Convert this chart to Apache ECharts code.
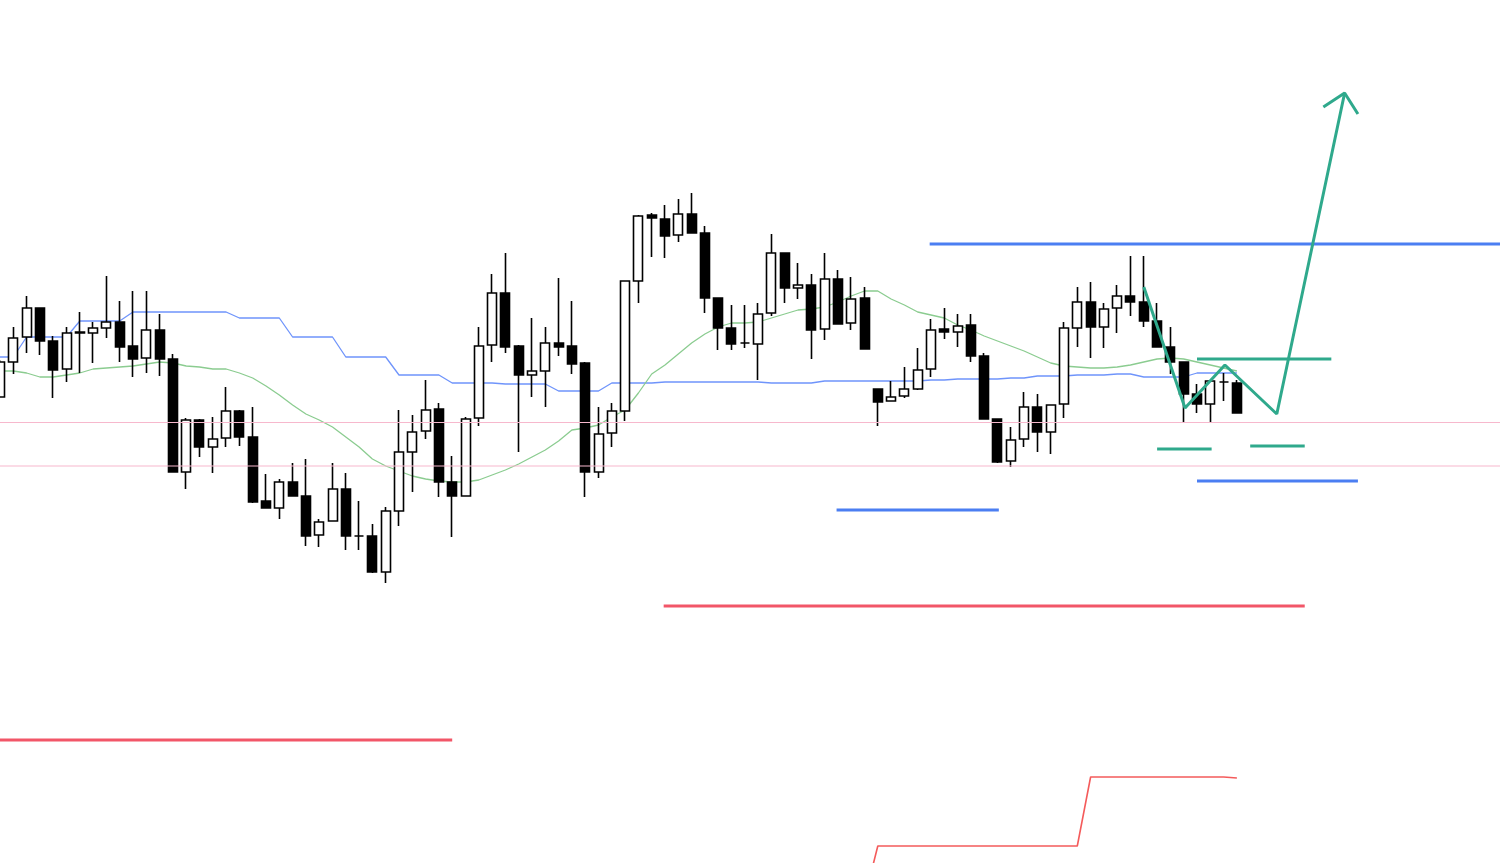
<!DOCTYPE html>
<html>
<head>
<meta charset="utf-8">
<script src="https://cdn.jsdelivr.net/npm/echarts@6/dist/echarts.min.js"></script>
<style>html,body{margin:0;padding:0;background:#fff;}#c{width:1500px;height:863px;}</style>
</head>
<body>
<div id="c"></div>
<script>
// Candles: [open, close, low, high]
const candles = [
[603,638,603,640],[638,662,626,673],[663,692,647,704],[692,659,645,692],[659,630,602,664],
[631,667,618,673],[667,668,627,688],[667,672,637,678],[672,678,662,724],[678,653,638,699],
[654,641,623,709],[642,670,627,709],[670,641,624,686],[641,528,528,646],[528,580,511,582],
[580,553,543,581],[553,561,527,583],[562,589,553,613],[589,563,554,590],[563,498,497,593],
[499,492,492,526],[492,518,481,521],[518,504,504,537],[504,464,454,541],[465,478,453,481],
[479,511,479,537],[511,464,450,527],[464,464,450,499],[464,428,427,476],[428,489,417,493],
[489,548,474,590],[548,568,508,585],[569,590,561,620],[591,518,503,597],[518,504,463,544],
[504,581,504,583],[582,654,574,673],[655,707,638,726],[707,653,647,747],[654,625,548,655],
[625,629,603,682],[629,657,593,673],[657,653,644,722],[654,636,626,699],[637,528,503,638],
[528,566,522,593],[567,589,553,597],[589,719,579,719],[719,784,697,785],[785,782,743,787],
[781,764,742,795],[765,786,758,801],[786,767,767,807],[767,702,687,774],[702,672,650,702],
[672,656,650,695],[657,657,652,695],[656,686,620,697],[687,747,684,766],[747,712,697,747],
[712,715,701,737],[715,670,641,726],[671,721,660,747],[721,676,676,730],[677,701,670,723],
[702,651,651,713],[611,598,574,611],[599,603,599,619],[604,611,602,633],[611,630,610,652],
[631,670,623,681],[671,668,661,692],[668,674,653,686],[675,644,638,686],[644,581,581,647],
[581,538,537,581],[539,560,533,573],[561,593,553,608],[593,568,548,606],[568,595,546,595],
[596,672,582,678],[672,698,653,713],[698,673,642,718],[673,691,652,697],[692,704,667,715],
[704,698,684,744],[698,679,673,744],[679,653,653,697],[653,638,626,673],[638,606,578,638],
[606,596,587,616],[596,619,578,619],[618,618,599,627],[617,587,587,620]
];
// Base line (thin blue, step-like)
const baseLine = [643,643,663,663,663,663,679,679,679,679,
688,688,688,688,688,688,688,688,682,682,682,682,663,663,663,663,643,643,643,643,
625,625,625,625,617,617,617,617,616,616,616,616,609,609,609,609,617,617,617,617,
618,618,618,618,618,618,618,618,617,617,617,617,619,619,619,619,619,619,619,619,
620,620,621,621,621,621,622,622,624,624,624,625,625,625,626,626,623,623,623,623,
627,627,627,627];
// Moving average (thin green)
const maLine = [629,629,627,623,623,625,627,631,632,633,634,636,638,637,634,633,631,631,627,622,
614,605,595,586,580,573,563,553,541,534,529,524,521,519,518,518,520,525,530,536,
543,550,559,570,572,575,583,590,607,626,635,646,657,666,673,677,677,678,682,686,
690,691,693,698,704,709,709,701,695,688,685,682,675,670,664,659,654,649,643,637,
634,633,632,632,633,635,638,641,642,641,638,635,632,629];
// Lower red step line (starts at index 65)
const stepStart = 65;
const stepLine = [101,154,154,154,154,154,154,154,154,154,154,154,154,154,154,154,154,223,223,223,223,223,223,223,223,223,223,223,222];

// Horizontal levels: [xStartIndex, xEndIndex, price]
const blueLevels = [[69.9,114,756],[62.9,75.1,490],[90.0,102.1,519]];
const redLevels = [[49.9,98.1,394],[-1,34.0,260]];
const pinkLevels = [[-1,114,577.5],[-1,114,534]];
const tealLevels = [[90.0,100.1,641],[87.0,91.1,551],[94.0,98.1,554]];
// Scenario zigzag and arrow head: [index, price]
const zigzag = [[86.0,713],[89.1,592],[92.1,635],[96.0,586],[101.1,907]];
const arrowHead = [[99.5,893],[101.1,907],[102.1,886]];

const N = 113;
const cats = Array.from({length: N}, (_, i) => String(i));
const W = 1500, rightPad = 10.4;
const overlayMax = (N - 1) * W / (W - rightPad);

function seg(l) { return [[l[0], l[2]], [l[1], l[2]]]; }
function lineSeries(data, color, width, z) {
  return {type:'line', xAxisIndex:1, yAxisIndex:1, data:data, symbol:'none', silent:true,
    animation:false, lineStyle:{color:color, width:width}, z:z};
}
const series = [];
series.push(lineSeries(baseLine.map((v,i)=>[i,v]), '#6f94fb', 1.3, 1));
series.push(lineSeries(maLine.map((v,i)=>[i,v]), '#8bcc90', 1.3, 1));
series.push(lineSeries(stepLine.map((v,i)=>[stepStart+i,v]), '#f45b5b', 1.6, 1));
series.push({type:'candlestick', xAxisIndex:0, yAxisIndex:0, data:candles, barWidth:9.5, animation:false, z:3, clip:false,
  itemStyle:{color:'#ffffff', color0:'#000000', borderColor:'#000000', borderColor0:'#000000', borderColorDoji:'#000000', borderWidth:1.6}});
pinkLevels.forEach(l => series.push(lineSeries(seg(l), '#f7b8cd', 1.2, 4)));
blueLevels.forEach(l => series.push(lineSeries(seg(l), '#4b7ef2', 3, 5)));
redLevels.forEach(l => series.push(lineSeries(seg(l), '#f25668', 3, 5)));
tealLevels.forEach(l => series.push(lineSeries(seg(l), '#2fa98c', 3, 5)));
series.push(lineSeries(zigzag, '#2fa98c', 3, 6));
series.push(lineSeries(arrowHead, '#2fa98c', 3, 6));

const chart = echarts.init(document.getElementById('c'), null, {renderer:'canvas'});
chart.setOption({
  backgroundColor:'#ffffff',
  animation:false,
  grid:[
    {left:0, right:rightPad, top:0, bottom:0, containLabel:false},
    {left:0, right:0, top:0, bottom:0, containLabel:false}
  ],
  xAxis:[
    {type:'category', gridIndex:0, data:cats, boundaryGap:false, show:false},
    {type:'value', gridIndex:1, min:0, max:overlayMax, show:false}
  ],
  yAxis:[
    {type:'value', gridIndex:0, min:137, max:1000, show:false},
    {type:'value', gridIndex:1, min:137, max:1000, show:false}
  ],
  series:series
});
</script>
</body>
</html>
